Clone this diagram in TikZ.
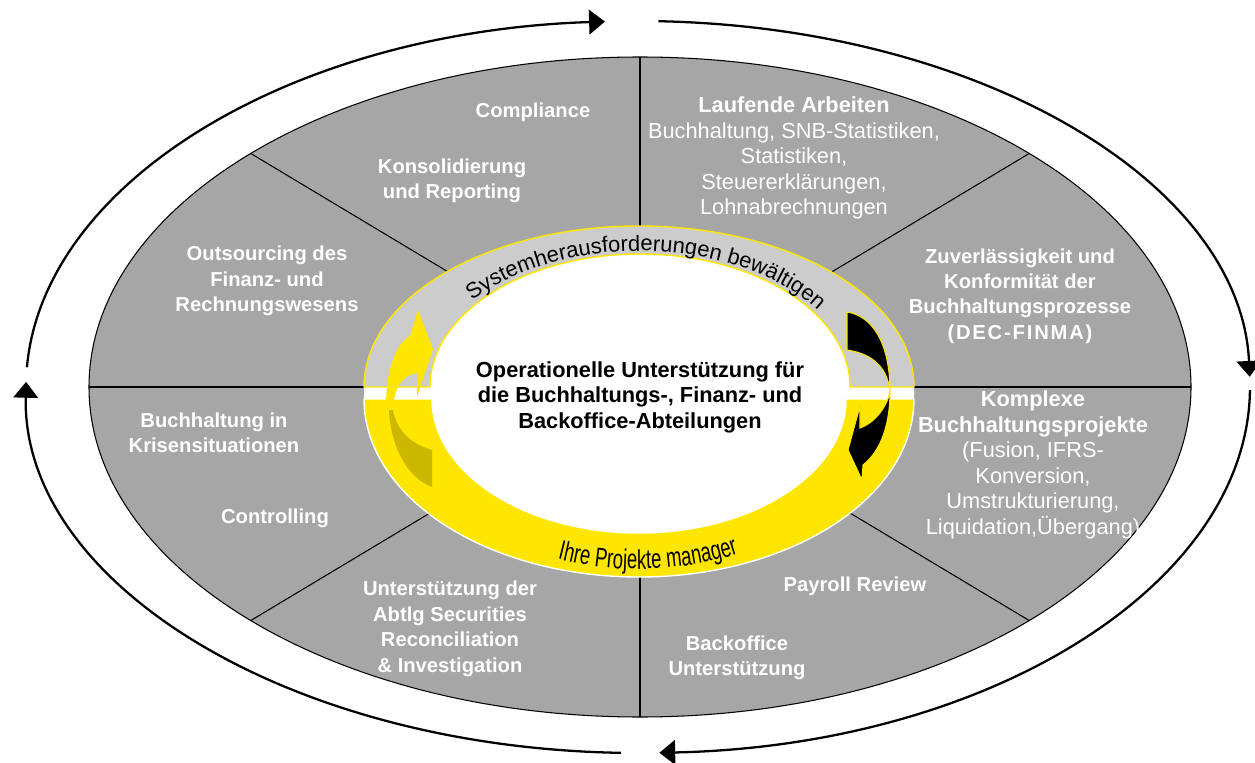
\documentclass[tikz,border=0pt]{standalone}
\usepackage{fontspec}
\setmainfont{Liberation Sans}
\newfontfamily\narrowfont[FakeStretch=0.68]{Liberation Sans}
\usetikzlibrary{arrows.meta,decorations.text}
\definecolor{sectorgray}{HTML}{A6A6A6}
\definecolor{ringgray}{HTML}{CCCCCC}
\definecolor{ringyellow}{HTML}{FFE600}
\definecolor{ringolive}{HTML}{CDB800}

\begin{document}
\begin{tikzpicture}[x=0.02cm, y=0.02cm,
  cyclearc/.style={line width=1.3pt, -{Triangle[length=9pt,width=14pt]}},
  lbl/.style={text=white, font=\bfseries\fontsize{11.5}{14.5}\selectfont, align=center},
  sublbl/.style={text=white, font=\fontsize{12.4}{14.5}\selectfont, align=center}]
  \useasboundingbox (0,0) rectangle (1255,762);

  % outer cycle arrows
  \coordinate (m) at (638,375);
  \draw[cyclearc] (m) ++(176.9:612 and 366) arc[start angle=176.9, end angle=93.1, x radius=612, y radius=366];
  \draw[cyclearc] (m) ++(88.1:612 and 366) arc[start angle=88.1, end angle=1.6, x radius=612, y radius=366];
  \draw[cyclearc] (m) ++(-0.5:612 and 366) arc[start angle=-0.5, end angle=-88, x radius=612, y radius=366];
  \draw[cyclearc] (m) ++(-91.6:612 and 366) arc[start angle=-91.6, end angle=-180.8, x radius=612, y radius=366];

  % sectors
  \draw[fill=sectorgray, line width=0.6pt] (640,375) ellipse[x radius=551, y radius=330];
  \begin{scope}
    \clip (640,375) ellipse[x radius=551, y radius=330];
    \draw[line width=0.6pt] (0,375) -- (1255,375) (640,0) -- (640,762);
    \draw[line width=0.6pt] (-60,795) -- (1340,-45) (-60,-45) -- (1340,795);
  \end{scope}

  % middle ring
  \fill[white] (364,375) arc[start angle=180, end angle=0, x radius=275, y radius=161] -- (914,363)
    arc[start angle=0, end angle=-180, x radius=275, y radius=178] -- cycle;
  \draw[ringyellow, fill=ringgray, line width=0.8pt] (914,375) arc[start angle=0, end angle=180, x radius=275, y radius=161]
    -- (430,375) arc[start angle=180, end angle=0, x radius=210, y radius=133] -- cycle;
  \draw[white, fill=ringyellow, line width=0.8pt] (364,363) arc[start angle=180, end angle=360, x radius=275, y radius=178]
    -- (846,363) arc[start angle=0, end angle=-180, x radius=207, y radius=134] -- cycle;

  % ring arrows
  \fill[ringolive] (389,352) .. controls (390,320) and (405,285) .. (432,275) -- (432,312)
    .. controls (412,318) and (397,330) .. (393,352) -- cycle;
  \fill[ringyellow] (418,452) -- (433,413) -- (417,365) -- (417,389) .. controls (405,387) and (395,378) .. (393,355)
    -- (386,355) .. controls (386,390) and (395,418) .. (410,426) -- cycle;
  \draw[ringyellow, fill=black, line width=0.6pt] (847,450) .. controls (872,446) and (890,420) .. (890,370)
    .. controls (890,340) and (882,312) .. (863,297) -- (862,282) -- (848,312) -- (860,356) -- (860,334)
    .. controls (872,338) and (886,352) .. (890,370) .. controls (888,392) and (875,408) .. (847,412) -- cycle;

  % ring texts
  \path[decorate, decoration={text along path, text align=center,
    text={|\fontsize{12.5}{15}\selectfont|Systemherausforderungen bewältigen}}]
    (639,375) ++(152:216 and 136) arc[start angle=152, end angle=22, x radius=216, y radius=136];
  \path[decorate, decoration={text along path, text align=center,
    text={|\narrowfont\fontsize{15.5}{17}\selectfont|Ihre Projekte manager}}]
    (639,363) ++(235:240 and 170) arc[start angle=235, end angle=310, x radius=240, y radius=170];

  % sector labels
  \node[lbl] (compliance) at (533,650) {Compliance};
  \node[lbl] (konsolidierung) at (452,581) {Konsolidierung\\und Reporting};
  \node[sublbl] (laufend) at (794,604) {\textbf{Laufende Arbeiten}\\Buchhaltung, SNB-Statistiken,\\Statistiken,\\Steuererklärungen,\\Lohnabrechnungen};
  \node[lbl] (outsourcing) at (267,481) {Outsourcing des\\Finanz- und\\Rechnungswesens};
  \node[lbl] (zuverlaessig) at (1020,466) {Zuverlässigkeit und\\Konformität der\\Buchhaltungsprozesse\\{\addfontfeature{LetterSpace=9}(DEC-FINMA)}};
  \node[sublbl] (komplexe) at (1033,297) {\textbf{Komplexe}\\\textbf{Buchhaltungsprojekte}\\(Fusion, IFRS-\\Konversion,\\Umstrukturierung,\\Liquidation,Übergang)};
  \node[lbl] (krisen) at (214,329) {Buchhaltung in\\Krisensituationen};
  \node[lbl] (controlling) at (275,244) {Controlling};
  \node[lbl] (securities) at (450,133) {Unterstützung der\\Abtlg Securities\\Reconciliation\\\& Investigation};
  \node[lbl] (payroll) at (855,176) {Payroll Review};
  \node[lbl] (backoffice) at (737,104) {Backoffice\\Unterstützung};
  \node[lbl, text=black, font=\bfseries\fontsize{12.4}{14.5}\selectfont] (kern) at (640,365) {Operationelle Unterstützung für\\die Buchhaltungs-, Finanz- und\\Backoffice-Abteilungen};
\end{tikzpicture}
\end{document}
